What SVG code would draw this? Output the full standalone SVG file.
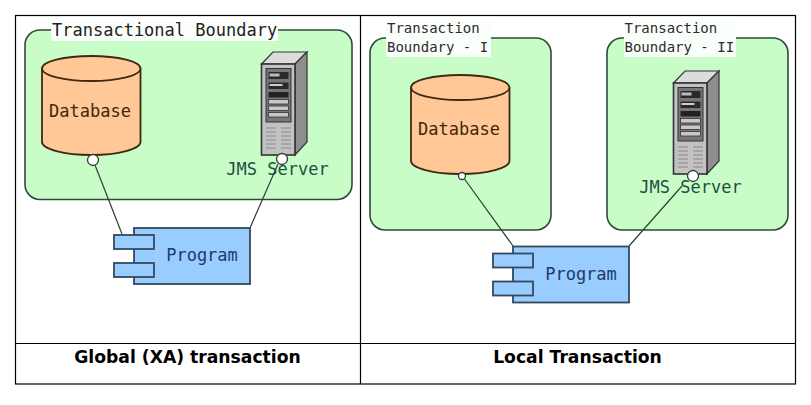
<svg xmlns="http://www.w3.org/2000/svg" xmlns:xlink="http://www.w3.org/1999/xlink" width="811" height="405" viewBox="0 0 811 405">
<style>
.grid{fill:none;stroke:#000;stroke-width:1.2}
.bound{fill:#c8fdc8;stroke:#2f4a37;stroke-width:1.6}
.lblbg{fill:#fbfffb}
.db{fill:#ffc896;stroke:#3c2a12;stroke-width:1.8}
.prog{fill:#99ccff;stroke:#34495e;stroke-width:1.8}
.conn{stroke:#2f3f35;stroke-width:1.2;fill:none}
.port{fill:#fff;stroke:#2f3f35;stroke-width:1.3}
text{font-family:"DejaVu Sans Mono","Liberation Mono",monospace}
.big{font-size:17px}
.small{font-size:14px;fill:#2b2b2b}
.dbt{fill:#42260f;text-anchor:middle}
.jms{fill:#1e5040;text-anchor:middle}
.prt{fill:#1c3a68;text-anchor:middle}
.cap{font-family:"DejaVu Sans","Liberation Sans",sans-serif;font-weight:bold;font-size:17.2px;fill:#000;text-anchor:middle}
</style>
<defs>
<g id="srv">
<path d="M261.5 64L273 52H307L295 64Z" fill="#dcdcdc" stroke="#333" stroke-width="1.2"/>
<path d="M295 64L307 52V142L295 155Z" fill="#8e8e8e" stroke="#333" stroke-width="1.2"/>
<rect x="261.5" y="64" width="33.5" height="91" fill="#c2c2c2" stroke="#333" stroke-width="1.6"/>
<rect x="266" y="68.5" width="25" height="53.5" fill="#777" stroke="#333"/>
<rect x="268.5" y="72" width="20" height="7" fill="#2a2a2a"/>
<rect x="269.5" y="73.5" width="10" height="3" fill="#bbb"/>
<rect x="268.5" y="82.5" width="20" height="6.5" fill="#2a2a2a"/>
<rect x="269.5" y="84" width="13" height="2" fill="#ccc"/>
<rect x="268.5" y="92" width="20" height="5.5" fill="#222"/>
<rect x="268.5" y="99.5" width="20" height="4.5" fill="#c8c8c8" stroke="#333" stroke-width=".8"/>
<rect x="268.5" y="106" width="20" height="4.5" fill="#c8c8c8" stroke="#333" stroke-width=".8"/>
<rect x="268.5" y="112.5" width="20" height="4.5" fill="#c8c8c8" stroke="#333" stroke-width=".8"/>
<path d="M266 128H276M281 128H291M266 132H276M281 132H291M266 136H276M281 136H291M266 140H276M281 140H291M266 144H276M281 144H291M266 148H276M281 148H291" stroke="#8a8a8a" stroke-width="1" fill="none"/>
</g>
<g id="cyl">
<path d="M42 68.500V142C42 149 64 155 91.250 155S140.500 149 140.500 142V68.500" class="db"/>
<ellipse cx="91.250" cy="68.500" rx="49.250" ry="12.500" class="db"/>
</g>
<g id="cmp">
<rect x="134" y="228" width="116" height="56" class="prog"/>
<rect x="114" y="235" width="40" height="14" class="prog"/>
<rect x="114" y="263" width="40" height="14" class="prog"/>
</g>
</defs>
<rect width="811" height="405" fill="#fff"/>
<g id="table">
<rect x="15.500" y="15.500" width="780" height="368.500" class="grid"/>
<path d="M360.500 15.500V384M15.500 343.500H795.500" class="grid"/>
<text class="cap" x="187.500" y="362.500">Global (XA) transaction</text>
<text class="cap" x="577.500" y="362.500">Local Transaction</text>
</g>
<g id="boundary-global">
<rect x="25" y="30" width="327" height="169.500" rx="15" class="bound"/>
<rect x="51" y="22" width="227" height="19" class="lblbg"/>
<text class="big" x="52" y="36" fill="#222">Transactional Boundary</text>
</g>
<g id="boundary-local-1">
<rect x="370" y="38" width="181" height="192" rx="15" class="bound"/>
<rect x="386" y="20" width="105" height="37" class="lblbg"/>
<text class="small" x="387" y="33">Transaction</text>
<text class="small" x="387" y="52">Boundary - I</text>
</g>
<g id="boundary-local-2">
<rect x="607" y="38" width="181" height="192" rx="15" class="bound"/>
<rect x="624" y="20" width="112" height="37" class="lblbg"/>
<text class="small" x="624.500" y="33">Transaction</text>
<text class="small" x="624.500" y="52">Boundary - II</text>
</g>
<g id="database-global">
<use xlink:href="#cyl" href="#cyl"/>
<text class="big dbt" x="90" y="116.500">Database</text>
</g>
<g id="jms-global">
<use xlink:href="#srv" href="#srv"/>
<text class="big jms" x="277.500" y="175">JMS Server</text>
</g>
<g id="database-local">
<use xlink:href="#cyl" href="#cyl" x="369" y="19"/>
<text class="big dbt" x="459" y="135">Database</text>
</g>
<g id="jms-local">
<use xlink:href="#srv" href="#srv" x="412" y="19"/>
<text class="big jms" x="690.500" y="193">JMS Server</text>
</g>
<g id="connectors">
<path class="conn" d="M95 165L122 234M278 164L250 228M464.500 179L513 246M682 186L629 246"/>
<circle class="port" cx="93" cy="160" r="5.500"/>
<circle class="port" cx="282" cy="159" r="5.500"/>
<circle class="port" cx="462" cy="176" r="3.500"/>
<circle class="port" cx="693" cy="176" r="5.500"/>
</g>
<g id="program-global">
<use xlink:href="#cmp" href="#cmp"/>
<text class="prt big" x="202" y="261">Program</text>
</g>
<g id="program-local">
<use xlink:href="#cmp" href="#cmp" x="379" y="18.500"/>
<text class="prt big" x="581" y="280">Program</text>
</g>
</svg>
